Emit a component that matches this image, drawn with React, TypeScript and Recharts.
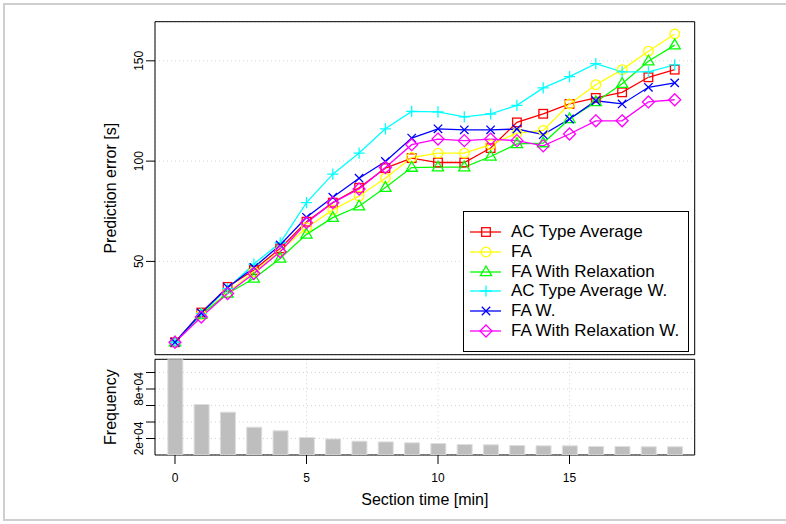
import React from "react";
import {
  LineChart,
  Line,
  XAxis,
  YAxis,
  CartesianGrid,
  ReferenceArea,
  ComposedChart,
  Bar,
} from "recharts";

// section time in minutes (x for both panels)
const sectionTime = [0, 1, 2, 3, 4, 5, 6, 7, 8, 9, 10, 11, 12, 13, 14, 15, 16, 17, 18, 19];

// prediction error [s]
const acTypeAverage = [9.7, 24.5, 37.3, 45.7, 56.5, 69.8, 79.3, 86.7, 96.5, 101.5, 99.3, 99.3, 106.5, 119.3, 123.6, 128.5, 131.5, 134.3, 141.8, 145.6];
const fa = [9.7, 23.5, 34.5, 44.8, 55.3, 66.8, 75.7, 82.6, 91.5, 101.8, 104, 104, 108.2, 114, 115.3, 128.5, 138.1, 145.6, 154.8, 163.4];
const faRelax = [9.7, 23.5, 34, 41.5, 51.5, 63.5, 71.8, 77.5, 86.8, 96.8, 97, 97, 102.3, 108.6, 109, 121, 129.5, 138.6, 149.8, 157.8];
const acTypeAverageW = [9.7, 24, 36.5, 48.7, 59.3, 79.3, 93.5, 104, 116.1, 124.8, 124.5, 122.1, 123.5, 127.8, 136.5, 142.1, 148.6, 144.5, 144.5, 148];
const faW = [9.7, 24.3, 37, 47, 58.2, 72, 82, 91.5, 99.8, 111.5, 116.1, 115.6, 115.6, 116, 113.2, 121, 130.1, 128.5, 136.8, 139];
const faRelaxW = [9.7, 22.3, 34, 44, 54.8, 69.3, 79.3, 86.1, 96.8, 108.2, 111, 110.2, 111, 110.2, 107.6, 113.5, 120.1, 120.1, 129.5, 130.6];

// number of sections per minute bin
const frequency = [140000, 61200, 51900, 33700, 29300, 21200, 19500, 16700, 15900, 14700, 13900, 12700, 12300, 11500, 11100, 11100, 10300, 10300, 10000, 10000];

const xTicks = [0, 5, 10, 15];
const errTicks = [50, 100, 150];
const freqTicks = [20000, 40000, 60000, 80000, 100000];
const freqLabels: Record<number, string> = { 20000: "2e+04", 80000: "8e+04" };

const FONT = "'Liberation Sans', Arial, Helvetica, sans-serif";
const X_DOMAIN: [number, number] = [-0.76, 19.76];
const ERR_DOMAIN: [number, number] = [3.5, 169.5];
const FREQ_DOMAIN: [number, number] = [0, 116000];
const GRID = "#d3d3d3";

type Shape = "square" | "circle" | "triangle" | "plus" | "cross" | "diamond";

const series: { key: string; name: string; color: string; shape: Shape; values: number[] }[] = [
  { key: "ac", name: "AC Type Average", color: "#ff0000", shape: "square", values: acTypeAverage },
  { key: "fa", name: "FA", color: "#ffff00", shape: "circle", values: fa },
  { key: "far", name: "FA With Relaxation", color: "#00ff00", shape: "triangle", values: faRelax },
  { key: "acw", name: "AC Type Average W.", color: "#00ffff", shape: "plus", values: acTypeAverageW },
  { key: "faw", name: "FA W.", color: "#0000ff", shape: "cross", values: faW },
  { key: "farw", name: "FA With Relaxation W.", color: "#ff00ff", shape: "diamond", values: faRelaxW },
];

const errRows = sectionTime.map((t, i) => {
  const row: Record<string, number> = { t };
  series.forEach((s) => (row[s.key] = s.values[i]));
  return row;
});

const freqRows = sectionTime.map((t, i) => ({ t, n: frequency[i] }));

function Marker({ cx, cy, shape, color }: { cx: number; cy: number; shape: Shape; color: string }) {
  const p = { fill: "none", stroke: color, strokeWidth: 1.3 };
  switch (shape) {
    case "square":
      return <rect x={cx - 4.3} y={cy - 4.3} width={8.6} height={8.6} {...p} />;
    case "circle":
      return <circle cx={cx} cy={cy} r={4.8} {...p} />;
    case "triangle":
      return <polygon points={`${cx},${cy - 6} ${cx + 5.6},${cy + 3.7} ${cx - 5.6},${cy + 3.7}`} {...p} />;
    case "plus":
      return <path d={`M${cx - 5.6},${cy}H${cx + 5.6}M${cx},${cy - 5.6}V${cy + 5.6}`} {...p} />;
    case "cross":
      return <path d={`M${cx - 4.2},${cy - 4.2}L${cx + 4.2},${cy + 4.2}M${cx - 4.2},${cy + 4.2}L${cx + 4.2},${cy - 4.2}`} {...p} />;
    default:
      return <polygon points={`${cx},${cy - 6} ${cx + 6},${cy} ${cx},${cy + 6} ${cx - 6},${cy}`} {...p} />;
  }
}

function makeDot(shape: Shape, color: string) {
  return (props: any) => {
    const { cx, cy, index } = props;
    if (cx == null || cy == null) return <g key={`d${index}`} />;
    return (
      <g key={`d${index}`}>
        <Marker cx={cx} cy={cy} shape={shape} color={color} />
      </g>
    );
  };
}

function RotatedTick(props: any) {
  const { x, y, payload, labels } = props;
  const text = labels ? labels[payload.value] ?? "" : String(payload.value);
  if (!text) return <g />;
  return (
    <text x={x} y={y} transform={`rotate(-90 ${x} ${y})`} textAnchor="middle" fontSize={12} fontFamily={FONT} fill="#000">
      {text}
    </text>
  );
}

function sideLabel(value: string) {
  return {
    content: (props: any) => {
      const vb = props.viewBox;
      const x = vb.x + 16;
      const y = vb.y + vb.height / 2;
      return (
        <text x={x} y={y} transform={`rotate(-90 ${x} ${y})`} textAnchor="middle" dominantBaseline="central" fontSize={16} fontFamily={FONT} fill="#000">
          {value}
        </text>
      );
    },
  };
}

// legend drawn as an overlay box inside the upper panel
function LegendBox() {
  return (
    <div
      style={{
        position: "absolute",
        left: 463,
        top: 211,
        width: 226,
        height: 141,
        border: "1px solid #000",
        boxSizing: "border-box",
        background: "#fff",
        fontFamily: FONT,
        fontSize: 17,
        paddingTop: 10,
        color: "#000",
      }}
    >
      {series.map((s) => (
        <div key={s.key} style={{ display: "flex", alignItems: "center", height: 19.8 }}>
          <svg width={47} height={20} style={{ flex: "none" }}>
            <line x1={6} x2={37} y1={10} y2={10} stroke={s.color} strokeWidth={1.3} />
            <Marker cx={22} cy={10} shape={s.shape} color={s.color} />
          </svg>
          <span style={{ whiteSpace: "nowrap" }}>{s.name}</span>
        </div>
      ))}
    </div>
  );
}

export default function App() {
  return (
    <div style={{ position: "absolute", left: 0, top: 0, width: 786, height: 524, overflow: "hidden", background: "#fff" }}>
      <div
        style={{
          position: "absolute",
          left: 3,
          top: 3,
          width: 820,
          height: 518,
          border: "2px solid #cfcfcf",
          boxSizing: "border-box",
        }}
      />

      {/* upper panel: prediction error per section time */}
      <div style={{ position: "absolute", left: 0, top: 0 }}>
        <LineChart width={786} height={370} data={errRows} margin={{ top: 21.7, right: 91.3, left: 95, bottom: 15.3 }}>
          <CartesianGrid stroke={GRID} strokeDasharray="1 3" />
          <XAxis dataKey="t" type="number" domain={X_DOMAIN} ticks={xTicks} interval={0} height={0} tick={false} tickLine={false} axisLine={false} />
          <YAxis
            type="number"
            domain={ERR_DOMAIN}
            ticks={errTicks}
            interval={0}
            allowDataOverflow
            width={60}
            axisLine={false}
            tickSize={9}
            tickMargin={3}
            tickLine={{ stroke: "#000" }}
            tick={<RotatedTick />}
            label={sideLabel("Prediction error [s]")}
          />
          {series.map((s) => (
            <Line
              key={s.key}
              dataKey={s.key}
              name={s.name}
              stroke={s.color}
              strokeWidth={1.3}
              dot={makeDot(s.shape, s.color)}
              activeDot={false}
              isAnimationActive={false}
            />
          ))}
          <ReferenceArea x1={X_DOMAIN[0]} x2={X_DOMAIN[1]} y1={ERR_DOMAIN[0]} y2={ERR_DOMAIN[1]} fill="none" fillOpacity={0} stroke="#000" strokeWidth={1} />
        </LineChart>
      </div>
      <LegendBox />

      {/* lower panel: frequency of section times */}
      <div style={{ position: "absolute", left: 0, top: 340 }}>
        <ComposedChart width={786} height={184} data={freqRows} margin={{ top: 19.3, right: 91.3, left: 95, bottom: 39 }}>
          <CartesianGrid stroke={GRID} strokeDasharray="1 3" />
          <XAxis
            dataKey="t"
            type="number"
            domain={X_DOMAIN}
            ticks={xTicks}
            interval={0}
            height={30}
            axisLine={false}
            tickSize={9}
            tickMargin={9.5}
            tickLine={{ stroke: "#000" }}
            tick={{ fontSize: 12, fontFamily: FONT, fill: "#000" }}
            label={{
              content: (props: any) => {
                const vb = props.viewBox;
                return (
                  <text x={vb.x + vb.width / 2} y={vb.y + vb.height + 14} textAnchor="middle" dominantBaseline="central" fontSize={16} fontFamily={FONT} fill="#000">
                    Section time [min]
                  </text>
                );
              },
            }}
          />
          <YAxis
            type="number"
            domain={FREQ_DOMAIN}
            ticks={freqTicks}
            interval={0}
            allowDataOverflow
            width={60}
            axisLine={false}
            tickSize={9}
            tickMargin={3}
            tickLine={{ stroke: "#000" }}
            tick={<RotatedTick labels={freqLabels} />}
            label={sideLabel("Frequency")}
          />
          <Bar dataKey="n" fill="#bebebe" stroke="#dedede" strokeWidth={1} barSize={15} isAnimationActive={false} />
          <ReferenceArea x1={X_DOMAIN[0]} x2={X_DOMAIN[1]} y1={FREQ_DOMAIN[0]} y2={FREQ_DOMAIN[1]} fill="none" fillOpacity={0} stroke="#000" strokeWidth={1} />
        </ComposedChart>
      </div>
    </div>
  );
}
